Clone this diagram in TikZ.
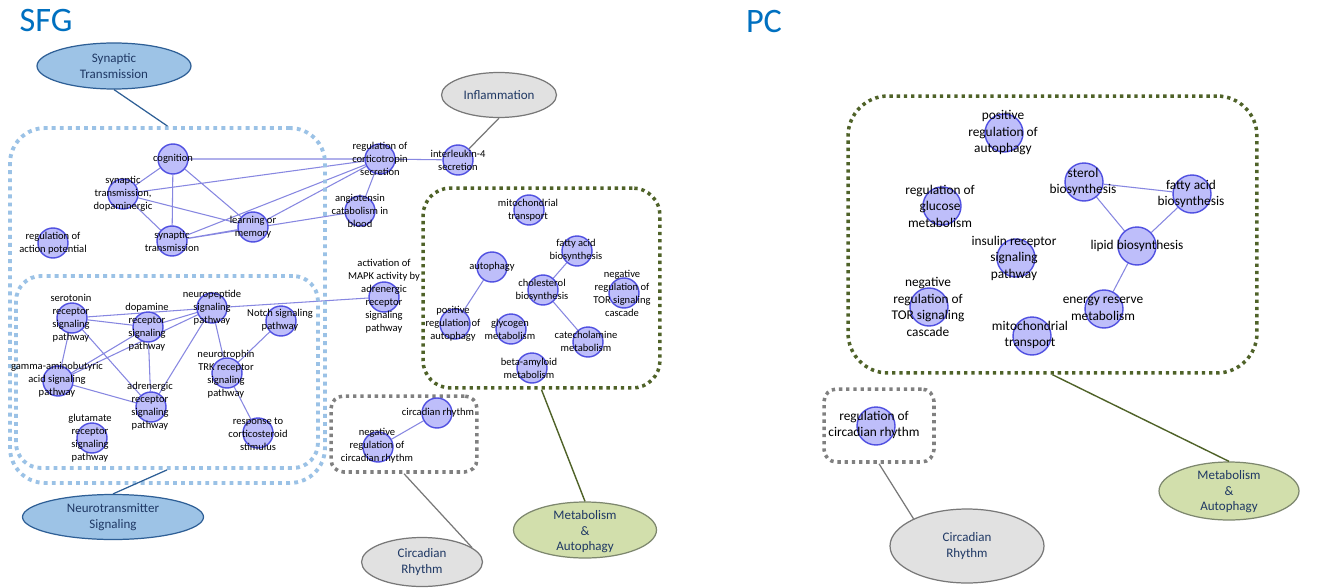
\documentclass[tikz,border=0pt]{standalone}
\usepackage{fontspec}
\setmainfont{Carlito}
\usetikzlibrary{shapes.geometric,backgrounds}
\definecolor{titleblue}{HTML}{0070C0}
\definecolor{cfill}{RGB}{190,190,250}
\definecolor{cdraw}{RGB}{80,80,225}
\definecolor{edgec}{RGB}{135,135,225}
\definecolor{lblue}{RGB}{155,194,230}
\definecolor{olive}{RGB}{79,98,40}
\definecolor{boxgray}{RGB}{128,128,128}
\definecolor{stfill}{RGB}{157,195,230}
\definecolor{stdraw}{RGB}{46,95,150}
\definecolor{grfill}{RGB}{225,225,225}
\definecolor{grdraw}{RGB}{120,120,120}
\definecolor{mfill}{RGB}{210,223,172}
\definecolor{mdraw}{RGB}{125,135,110}
\definecolor{navy}{RGB}{31,56,100}
\tikzset{
  circ/.style={circle, draw=cdraw, fill=cfill, line width=0.8pt, minimum size=0.6cm, inner sep=0pt},
  pcirc/.style={circ, minimum size=0.76cm},
  lbl/.style={align=center, font=\fontsize{6}{7.4}\selectfont, text=black, inner sep=0pt},
  plbl/.style={lbl, font=\fontsize{7.6}{9.4}\selectfont},
  edge/.style={draw=edgec, line width=0.6pt},
  grp/.style={rectangle, inner sep=0pt, fill=none},
  bluegrp/.style={grp, draw=lblue, line width=2.2pt, dash pattern=on 2.2pt off 2.4pt},
  olivegrp/.style={grp, draw=olive, line width=2pt, dash pattern=on 1.9pt off 2.2pt},
  graygrp/.style={grp, draw=boxgray, line width=2pt, dash pattern=on 1.9pt off 2.2pt},
  ell/.style={ellipse, inner sep=0pt, line width=0.7pt},
  stell/.style={ell, draw=stdraw, fill=stfill},
  grell/.style={ell, draw=grdraw, fill=grfill},
  mell/.style={ell, draw=mdraw, fill=mfill},
  elbl/.style={align=center, font=\fontsize{7.4}{8.8}\selectfont, text=navy, inner sep=0pt},
  title/.style={font=\fontsize{19.5}{22}\selectfont, text=titleblue, inner sep=0pt}
}
\begin{document}
\begin{tikzpicture}[x=0.02cm,y=-0.02cm]
\useasboundingbox (0,0) rectangle (1318,588);

% titles
\node[title] (sfg) at (46,21) {SFG};
\node[title] (pc) at (764,22) {PC};

% group boxes
\node[bluegrp, rounded corners=0.7cm, minimum width=6.3cm, minimum height=7.1cm] (stbox) at (167.5,305.5) {};
\node[bluegrp, rounded corners=0.5cm, minimum width=6.04cm, minimum height=3.84cm] (ntbox) at (167,372) {};
\node[olivegrp, rounded corners=0.55cm, minimum width=4.74cm, minimum height=4cm] (mbox) at (541.5,288) {};
\node[graygrp, rounded corners=0.25cm, minimum width=2.92cm, minimum height=1.52cm] (crbox) at (404,434) {};
\node[olivegrp, rounded corners=0.8cm, minimum width=8.18cm, minimum height=5.54cm] (pmbox) at (1052.5,234.5) {};
\node[graygrp, rounded corners=0.25cm, minimum width=2.2cm, minimum height=1.46cm] (pcrbox) at (879,425.5) {};

% ellipses
\node[stell, minimum width=3.08cm, minimum height=0.92cm] (ste) at (114,66) {};
\node[elbl] (steL) at (ste) {Synaptic\\Transmission};
\node[stell, minimum width=3.62cm, minimum height=0.9cm] (nte) at (113,517) {};
\node[elbl] (nteL) at (nte) {Neurotransmitter\\Signaling};
\node[grell, minimum width=2.3cm, minimum height=0.9cm] (infe) at (499,95) {};
\node[elbl] (infeL) at (infe) {Inflammation};
\node[grell, minimum width=2.42cm, minimum height=0.98cm] (cre) at (422,562) {};
\node[elbl] (creL) at (cre) {Circadian\\Rhythm};
\node[mell, minimum width=2.86cm, minimum height=1.12cm] (me) at (585,530) {};
\node[elbl] (meL) at (585,532) {Metabolism\\\&\\Autophagy};
\node[grell, minimum width=3.08cm, minimum height=1.48cm] (pcre) at (967,546) {};
\node[elbl] (pcreL) at (pcre) {Circadian\\Rhythm};
\node[mell, minimum width=2.8cm, minimum height=1.16cm] (pme) at (1229,491) {};
\node[elbl] (pmeL) at (1229,492) {Metabolism\\\&\\Autophagy};

% circles SFG
\node[circ] (cog) at (173,159) {};
\node[circ] (std) at (123,194) {};
\node[circ] (lom) at (253,227) {};
\node[circ] (st) at (172,241) {};
\node[circ] (rap) at (53,243) {};
\node[circ] (rcs) at (380,159) {};
\node[circ] (il4) at (458,160) {};
\node[circ] (ang) at (360,211) {};
\node[circ] (mapk) at (384,297) {};
\node[circ] (ser) at (72,318) {};
\node[circ] (dop) at (148,327) {};
\node[circ] (neu) at (212,308) {};
\node[circ] (notch) at (281,321) {};
\node[circ] (gaba) at (58,381) {};
\node[circ] (adr) at (151,407) {};
\node[circ] (ntr) at (227,373) {};
\node[circ] (glu) at (92,438) {};
\node[circ] (rcort) at (258,433) {};
\node[circ] (mt) at (529,210) {};
\node[circ] (fa) at (577,251) {};
\node[circ] (aut) at (492,267) {};
\node[circ] (chol) at (543,290) {};
\node[circ] (ntor) at (624,293) {};
\node[circ] (pra) at (455,324) {};
\node[circ] (gly) at (511,329) {};
\node[circ] (cat) at (588,342) {};
\node[circ] (ba) at (532,368) {};
\node[circ] (cr) at (437,413) {};
\node[circ] (nrcr) at (378,447) {};
% circles PC
\node[pcirc] (ppra) at (1004,133) {};
\node[pcirc] (ster) at (1084,182) {};
\node[pcirc] (pfa) at (1192,194) {};
\node[pcirc] (rgm) at (942,206) {};
\node[pcirc] (lip) at (1137,246) {};
\node[pcirc] (ins) at (1016,258) {};
\node[pcirc] (pntor) at (929,307) {};
\node[pcirc] (erm) at (1104,309) {};
\node[pcirc] (pmt) at (1032,336) {};
\node[pcirc] (prcr) at (876,426) {};

% edges
\begin{scope}[on background layer]
\fill[white] (0,0) rectangle (1318,588);
\path[edge] (cog) -- (std) (cog) -- (st) (cog) -- (lom) (cog) -- (rcs)
  (std) -- (st) (std) -- (lom) (std) -- (rcs)
  (st) -- (lom) (st) -- (rcs) (st) -- (ang) (lom) -- (rcs)
  (rcs) -- (ang) (rcs) -- (il4);
\path[edge] (ser) -- (dop) (ser) -- (neu) (ser) -- (gaba) (ser) -- (adr)
  (gaba) -- (dop) (gaba) -- (neu) (gaba) -- (adr)
  (dop) -- (neu) (dop) -- (adr) (neu) -- (adr) (neu) -- (ntr) (neu) -- (mapk)
  (notch) -- (ntr) (ntr) -- (rcort);
\path[edge] (aut) -- (pra) (fa) -- (chol) (chol) -- (cat) (cr) -- (nrcr);
\path[edge] (ster) -- (pfa) (ster) -- (lip) (pfa) -- (lip) (lip) -- (erm);
\end{scope}

% group connectors
\draw[stdraw, line width=0.7pt] (ste.south) -- (stbox.north);
\draw[stdraw, line width=0.7pt] (nte.north) -- (ntbox.south);
\draw[grdraw, line width=0.7pt] (infe.south) -- (il4);
\draw[grdraw, line width=0.7pt] (crbox.south) -- (cre.16);
\draw[olive, line width=0.8pt] (mbox.south) -- (me.north);
\draw[grdraw, line width=0.7pt] (pcrbox.south) -- (pcre.153);
\draw[olive, line width=0.8pt] (pmbox.south) -- (pme.north);

% labels SFG
\node[lbl] (cogL) at (173,159) {cognition};
\node[lbl] (stdL) at (123,194) {synaptic\\transmission,\\dopaminergic};
\node[lbl] (lomL) at (253,227) {learning or\\memory};
\node[lbl] (stL) at (172,241) {synaptic\\transmission};
\node[lbl] (rapL) at (53,243) {regulation of\\action potential};
\node[lbl] (rcsL) at (380,159) {regulation of\\corticotropin\\secretion};
\node[lbl] (il4L) at (458,160) {interleukin-4\\secretion};
\node[lbl] (angL) at (360,211) {angiotensin\\catabolism in\\blood};
\node[lbl] (mapkL) at (384,296) {activation of\\MAPK activity by\\adrenergic\\receptor\\signaling\\pathway};
\node[lbl] (serL) at (71,318) {serotonin\\receptor\\signaling\\pathway};
\node[lbl] (dopL) at (147,327) {dopamine\\receptor\\signaling\\pathway};
\node[lbl] (neuL) at (212,308) {neuropeptide\\signaling\\pathway};
\node[lbl] (notchL) at (280,320) {Notch signaling\\pathway};
\node[lbl] (gabaL) at (57,380) {gamma-aminobutyric\\acid signaling\\pathway};
\node[lbl] (adrL) at (150,406) {adrenergic\\receptor\\signaling\\pathway};
\node[lbl] (ntrL) at (226,374) {neurotrophin\\TRK receptor\\signaling\\pathway};
\node[lbl] (gluL) at (90,438) {glutamate\\receptor\\signaling\\pathway};
\node[lbl] (rcortL) at (258,434) {response to\\corticosteroid\\stimulus};
\node[lbl] (mtL) at (528,210) {mitochondrial\\transport};
\node[lbl] (faL) at (576,250) {fatty acid\\biosynthesis};
\node[lbl] (autL) at (492,267) {autophagy};
\node[lbl] (cholL) at (542,290) {cholesterol\\biosynthesis};
\node[lbl] (ntorL) at (622,293) {negative\\regulation of\\TOR signaling\\cascade};
\node[lbl] (praL) at (453,324) {positive\\regulation of\\autophagy};
\node[lbl] (glyL) at (510,329) {glycogen\\metabolism};
\node[lbl] (catL) at (586,341) {catecholamine\\metabolism};
\node[lbl] (baL) at (529,368) {beta-amyloid\\metabolism};
\node[lbl] (crL) at (438,413) {circadian rhythm};
\node[lbl] (nrcrL) at (377,446) {negative\\regulation of\\circadian rhythm};
% labels PC
\node[plbl] (ppraL) at (1003,133) {positive\\regulation of\\autophagy};
\node[plbl] (sterL) at (1083,182) {sterol\\biosynthesis};
\node[plbl] (pfaL) at (1191,194) {fatty acid\\biosynthesis};
\node[plbl] (rgmL) at (940,206) {regulation of\\glucose\\metabolism};
\node[plbl] (lipL) at (1137,246) {lipid biosynthesis};
\node[plbl] (insL) at (1014,258) {insulin receptor\\signaling\\pathway};
\node[plbl] (pntorL) at (928,307) {negative\\regulation of\\TOR signaling\\cascade};
\node[plbl] (ermL) at (1103,309) {energy reserve\\metabolism};
\node[plbl] (pmtL) at (1030,335) {mitochondrial\\transport};
\node[plbl] (prcrL) at (874,425) {regulation of\\circadian rhythm};
\end{tikzpicture}
\end{document}
